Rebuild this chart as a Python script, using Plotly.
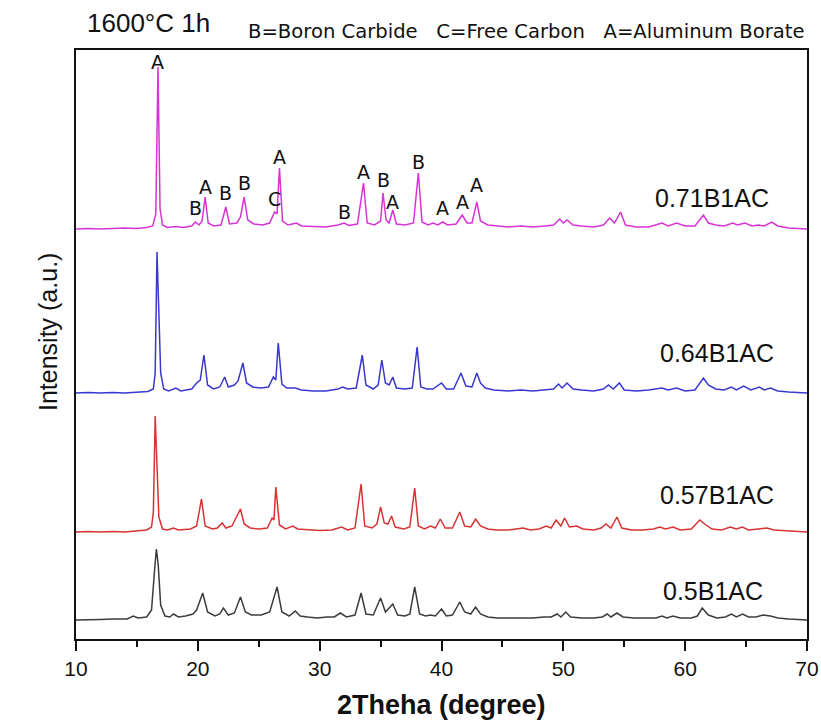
import numpy as np
import plotly.graph_objects as go

# ---------------- data ----------------
# 2-theta (degree) / relative intensity (a.u.) for each sample

tt_071 = [10.0, 11.0, 12.0, 13.0, 14.0, 15.0, 15.8, 16.3, 16.55, 16.73, 16.9, 17.1, 17.5, 18.2, 18.8,
          19.5, 19.8, 20.1, 20.35, 20.6, 20.85, 21.3, 21.9, 22.3, 22.6, 23.2, 23.5, 23.8, 24.1, 24.6,
          25.3, 25.9, 26.3, 26.5, 26.7, 26.95, 27.4, 28.1, 28.5, 29.5, 30.5, 31.5, 32.0, 32.4, 33.1,
          33.6, 33.9, 34.5, 35.0, 35.2, 35.45, 35.7, 36.0, 36.3, 37.0, 37.7, 38.1, 38.4, 38.9, 39.3,
          39.7, 40.1, 40.5, 41.2, 41.7, 42.1, 42.5, 42.9, 43.2, 43.8, 44.5, 45.5, 46.5, 47.5, 48.5,
          49.2, 49.7, 50.0, 50.3, 50.8, 51.5, 52.5, 53.3, 53.8, 54.2, 54.7, 55.1, 56.0, 57.0, 58.1,
          58.6, 59.3, 60.0, 60.8, 61.5, 61.9, 62.5, 63.2, 63.9, 64.3, 64.9, 65.5, 66.0, 66.5, 67.1,
          67.6, 68.5, 69.5, 70.0]
int_071 = [0, 5, 0, 5, 10, 5, 15, 30, 150, 1620, 200, 40, 15, 25, 15,
           30, 70, 40, 80, 320, 60, 30, 40, 220, 50, 60, 120, 320, 90, 50,
           40, 60, 170, 150, 610, 80, 40, 60, 30, 25, 20, 40, 60, 35, 50,
           460, 60, 40, 80, 360, 90, 60, 190, 50, 40, 60, 560, 70, 40, 60,
           40, 70, 40, 50, 140, 60, 60, 270, 80, 40, 30, 20, 30, 20, 30,
           40, 100, 60, 90, 40, 30, 20, 40, 110, 60, 170, 40, 20, 20, 60,
           30, 60, 30, 30, 140, 60, 40, 30, 60, 40, 60, 30, 40, 30, 70,
           30, 10, 5, 0]

tt_064 = [10.0, 11.0, 12.0, 13.0, 14.0, 15.0, 15.9, 16.35, 16.5, 16.65, 16.8, 16.95, 17.2, 17.6, 18.2,
          18.6, 19.5, 19.9, 20.2, 20.5, 20.8, 21.3, 21.8, 22.2, 22.5, 23.0, 23.3, 23.7, 24.0, 24.5,
          25.2, 25.8, 26.2, 26.4, 26.6, 26.9, 27.3, 28.0, 28.5, 29.5, 30.5, 31.5, 31.9, 32.3, 33.0,
          33.5, 33.8, 34.4, 34.8, 35.1, 35.4, 35.7, 36.0, 36.3, 37.0, 37.6, 38.0, 38.3, 38.8, 39.3,
          40.0, 40.4, 41.0, 41.6, 42.0, 42.5, 42.9, 43.2, 43.6, 44.3, 45.5, 46.5, 47.5, 48.5, 49.2,
          49.6, 49.9, 50.3, 50.8, 51.5, 52.5, 53.3, 53.7, 54.1, 54.6, 55.0, 56.0, 57.0, 58.1, 58.6,
          59.3, 60.0, 60.8, 61.5, 61.9, 62.5, 63.2, 63.8, 64.2, 64.8, 65.4, 66.1, 66.5, 67.0, 67.6,
          68.5, 69.5, 70.0]
int_064 = [0, 5, 0, 5, 0, 10, 15, 40, 200, 1410, 900, 200, 40, 20, 50,
           20, 40, 100, 130, 380, 80, 40, 60, 160, 60, 80, 120, 300, 100, 60,
           50, 60, 160, 130, 500, 90, 50, 50, 30, 20, 20, 40, 60, 40, 50,
           380, 80, 40, 80, 330, 100, 80, 160, 50, 40, 50, 460, 60, 40, 40,
           100, 40, 40, 200, 70, 60, 200, 100, 50, 30, 20, 30, 20, 30, 40,
           90, 50, 100, 40, 30, 20, 40, 80, 40, 100, 30, 20, 30, 50, 30,
           50, 20, 30, 150, 80, 40, 30, 60, 30, 70, 30, 60, 30, 50, 20,
           10, 0, 0]

tt_057 = [10.0, 11.0, 12.0, 13.0, 14.0, 15.0, 15.8, 16.2, 16.35, 16.5, 16.65, 16.8, 17.1, 17.5, 18.0,
          18.4, 19.4, 19.9, 20.3, 20.6, 21.2, 21.6, 22.0, 22.3, 22.8, 23.1, 23.5, 23.8, 24.3, 25.0,
          25.7, 26.1, 26.25, 26.4, 26.7, 27.2, 27.8, 28.2, 29.0, 30.0, 31.0, 31.8, 32.3, 32.9, 33.4,
          33.7, 34.3, 34.7, 35.0, 35.3, 35.6, 35.9, 36.2, 36.9, 37.4, 37.8, 38.1, 38.6, 39.1, 39.5,
          39.9, 40.3, 40.9, 41.5, 41.9, 42.4, 42.8, 43.2, 43.8, 44.5, 45.5, 46.7, 47.3, 48.0, 48.6,
          49.0, 49.4, 49.8, 50.1, 50.5, 51.1, 51.6, 52.5, 53.1, 53.5, 53.9, 54.4, 54.8, 55.6, 56.5,
          57.4, 57.9, 58.4, 59.0, 59.6, 60.5, 61.2, 61.6, 62.2, 63.0, 63.7, 64.2, 64.7, 65.2, 66.0,
          66.7, 67.3, 68.5, 69.5, 70.0]
int_057 = [0, 5, 0, 5, 0, 10, 20, 50, 200, 1160, 700, 150, 30, 20, 40,
           20, 30, 60, 330, 60, 30, 40, 90, 40, 60, 130, 230, 80, 40, 30,
           40, 140, 120, 450, 70, 30, 60, 30, 20, 15, 20, 50, 20, 40, 480,
           60, 40, 80, 250, 90, 80, 160, 50, 30, 50, 440, 60, 30, 60, 40,
           130, 40, 40, 200, 60, 50, 130, 60, 30, 20, 20, 40, 20, 30, 60,
           40, 120, 60, 140, 50, 60, 30, 20, 40, 80, 40, 150, 40, 20, 20,
           30, 50, 30, 50, 20, 30, 120, 80, 30, 20, 50, 30, 50, 20, 30,
           40, 20, 10, 0, 0]

tt_050 = [10.0, 11.0, 12.0, 13.0, 14.2, 14.7, 15.1, 15.8, 16.2, 16.45, 16.6, 16.75, 16.95, 17.3, 17.7,
          18.0, 18.4, 19.0, 19.6, 19.9, 20.4, 20.8, 21.4, 21.8, 22.1, 22.5, 23.0, 23.5, 23.9, 24.4,
          25.2, 25.9, 26.5, 26.9, 27.5, 28.0, 28.4, 29.0, 29.8, 30.6, 31.2, 31.7, 32.2, 32.9, 33.4,
          33.8, 34.4, 35.0, 35.4, 36.0, 36.4, 37.0, 37.4, 37.8, 38.2, 38.7, 39.1, 39.5, 40.0, 40.4,
          40.9, 41.5, 41.9, 42.4, 42.8, 43.2, 43.8, 44.6, 45.5, 46.5, 47.5, 48.4, 49.0, 49.5, 49.8,
          50.2, 50.6, 51.5, 52.5, 53.2, 53.6, 53.9, 54.4, 54.9, 55.8, 56.8, 57.6, 58.1, 58.5, 59.0,
          59.6, 60.5, 61.0, 61.4, 61.9, 62.6, 63.3, 63.8, 64.2, 64.7, 65.2, 65.8, 66.4, 67.0, 67.6,
          68.5, 69.5, 70.0]
int_050 = [0, 0, 5, 10, 10, 40, 20, 30, 100, 500, 710, 550, 150, 40, 30,
           60, 30, 40, 60, 100, 270, 80, 40, 60, 120, 50, 70, 230, 80, 50,
           50, 80, 330, 80, 40, 90, 40, 30, 20, 30, 30, 70, 30, 50, 270,
           60, 50, 220, 80, 160, 50, 40, 60, 330, 60, 40, 50, 40, 110, 40,
           50, 180, 80, 60, 130, 60, 30, 20, 20, 20, 20, 30, 30, 60, 30,
           80, 30, 20, 20, 30, 60, 30, 70, 30, 20, 20, 20, 40, 20, 40,
           20, 20, 40, 120, 50, 20, 30, 60, 30, 60, 30, 30, 50, 40, 20,
           10, 5, 0]

samples = ["0.5B1AC", "0.57B1AC", "0.64B1AC", "0.71B1AC"]
two_theta = [tt_050, tt_057, tt_064, tt_071]
intensity = [int_050, int_057, int_064, int_071]
offsets = [190, 1070, 2460, 4100]          # vertical stacking of the patterns

# phase marks on the 0.71B1AC pattern
phase_letters = ["A", "B", "A", "B", "B", "C", "A", "B", "A", "B", "A", "B", "A", "A", "A"]
phase_2theta = [16.73, 19.8, 20.6, 22.3, 23.8, 26.3, 26.7, 32.0, 33.6, 35.2, 36.0, 38.1, 40.1, 41.7, 42.9]

x_ticks = [10, 20, 30, 40, 50, 60, 70]

# ---------------- styling / layout ----------------
colors = ["#3c3c3c", "#d83232", "#3838cf", "#d733d7"]
W, H = 821, 724
L, R, T, B = 76, 807, 50, 639


def px_x(px):
    return (px - L) / (R - L)


def px_y(py):
    return (B - py) / (B - T)


fig = go.Figure()
for name, xs, ys, off, col in zip(samples, two_theta, intensity, offsets, colors):
    fig.add_trace(go.Scatter(
        x=xs, y=np.array(ys) + off, mode="lines", name=name,
        line=dict(color=col, width=1.5), showlegend=False,
    ))

# sample names next to each pattern
name_pos = [(62.3, 480), (62.6, 1440), (62.6, 2860), (62.2, 4410)]
for name, (nx, ny) in zip(samples, name_pos):
    fig.add_annotation(x=nx, y=ny, text=name, showarrow=False,
                       font=dict(family="Liberation Sans", size=25, color="#111"),
                       xanchor="center", yanchor="middle")

# phase letters above peaks of the top pattern
top_x = np.array(tt_071)
top_y = np.array(int_071) + offsets[3]
lift = [5, 14, 10, 14, 14, 13, 11, 11, 11, 13, 8, 11, 14, 13, 17]
for letter, pos, dy in zip(phase_letters, phase_2theta, lift):
    fig.add_annotation(x=pos, y=float(np.interp(pos, top_x, top_y)), text=letter,
                       showarrow=False, yanchor="middle", xanchor="center", yshift=dy,
                       font=dict(family="DejaVu Sans", size=19, color="#111"))

# header texts
fig.add_annotation(xref="paper", yref="paper", x=px_x(148), y=px_y(23), text="1600\u00b0C 1h",
                   showarrow=False, xanchor="center", yanchor="middle",
                   font=dict(family="Liberation Sans", size=26, color="#111"))
fig.add_annotation(xref="paper", yref="paper", x=px_x(526), y=px_y(32),
                   text="B=Boron Carbide&nbsp;&nbsp;&nbsp;C=Free Carbon&nbsp;&nbsp;&nbsp;A=Aluminum Borate",
                   showarrow=False, xanchor="center", yanchor="middle",
                   font=dict(family="DejaVu Sans", size=19.6, color="#111"))

# axis titles
fig.add_annotation(xref="paper", yref="paper", x=px_x(441), y=px_y(705), text="<b>2Theha (degree)</b>",
                   showarrow=False, xanchor="center", yanchor="middle",
                   font=dict(family="Liberation Sans", size=27, color="#111"))
fig.add_annotation(xref="paper", yref="paper", x=px_x(48), y=px_y(332), text="Intensity (a.u.)",
                   showarrow=False, xanchor="center", yanchor="middle", textangle=-90,
                   font=dict(family="Liberation Sans", size=25, color="#111"))

fig.update_xaxes(range=[10, 70], tickmode="array", tickvals=x_ticks, automargin=False,
                 ticks="outside", ticklen=10, tickwidth=2, tickcolor="#111",
                 minor=dict(dtick=5, ticks="outside", ticklen=6, tickwidth=2, tickcolor="#111"),
                 showline=True, linewidth=2, linecolor="#111", mirror=True,
                 showgrid=False, zeroline=False,
                 tickfont=dict(family="Liberation Sans", size=21, color="#111"))
fig.update_yaxes(range=[0, 5890], showticklabels=False, ticks="", automargin=False,
                 showline=True, linewidth=2, linecolor="#111", mirror=True,
                 showgrid=False, zeroline=False)

fig.update_layout(width=W, height=H, margin=dict(l=L, r=W - R, t=T, b=H - B),
                  plot_bgcolor="white", paper_bgcolor="white")

fig.write_html("out.html")
